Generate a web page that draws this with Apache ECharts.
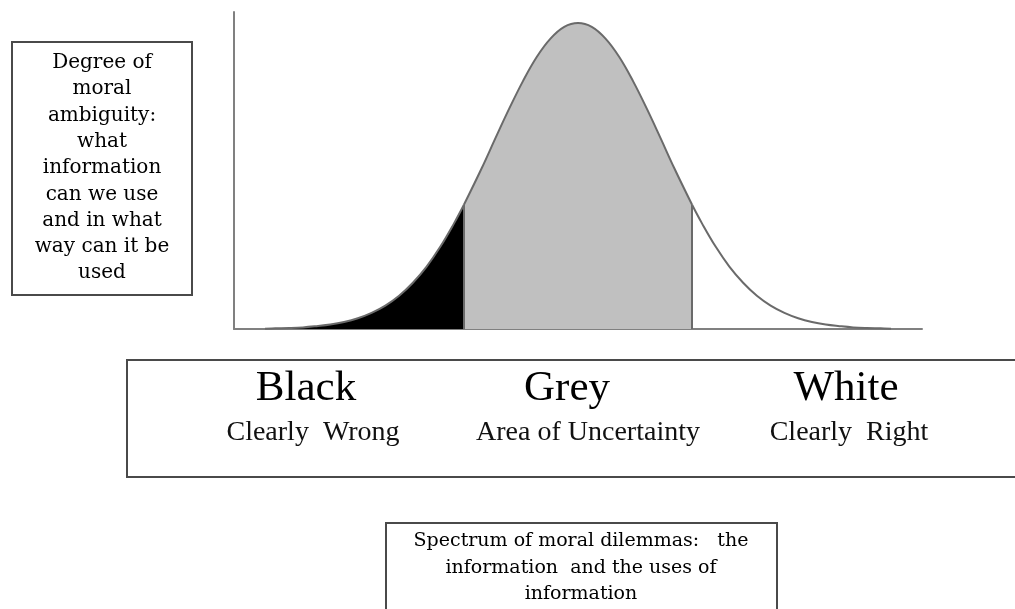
<!DOCTYPE html>
<html>
<head>
<meta charset="utf-8">
<script src="https://cdn.jsdelivr.net/npm/echarts@6/dist/echarts.min.js"></script>
<style>
  html, body { margin: 0; padding: 0; background: #fff; }
  #main { width: 1015px; height: 609px; }
</style>
</head>
<body>
<div id="main"></div>
<script>
// curve, x on a 0..100 scale along the axis, y 0..100 up the axis
const blackX = [4.5, 6, 8, 10, 12, 14, 16, 18, 20, 22, 24, 26, 28, 30, 32, 33.4];
const blackY = [0.1, 0.2, 0.3, 0.5, 0.9, 1.4, 2.2, 3.4, 5.1, 7.4, 10.5, 14.6, 19.7, 26.0, 33.4, 39.1];

const greyX = [33.4, 36, 38, 40, 42, 44, 46, 48, 50, 52, 54, 56, 58, 60, 62, 64, 66.6];
const greyY = [39.1, 50.7, 60.2, 69.5, 78.2, 85.8, 91.6, 95.3, 96.5, 95.3, 91.6, 85.8, 78.2, 69.5, 60.2, 50.7, 39.1];

const whiteX = [66.6, 68, 70, 72, 74, 76, 78, 80, 82, 84, 86, 88, 90, 92, 94, 95.5];
const whiteY = [39.1, 33.4, 26.0, 19.7, 14.6, 10.5, 7.4, 5.1, 3.4, 2.2, 1.4, 0.9, 0.5, 0.3, 0.2, 0.1];

// where the grey band starts and ends
const cutX = [33.4, 66.6];
const cutY = [39.1, 39.1];

const zones = ['Black', 'Grey', 'White'];
const zoneNotes = ['Clearly  Wrong', 'Area of Uncertainty', 'Clearly  Right'];

const yTitle = 'Degree of\nmoral\nambiguity:\nwhat\ninformation\ncan we use\nand in what\nway can it be\nused';
const xTitle = 'Spectrum of moral dilemmas:   the\ninformation  and the uses of\ninformation';

const pairs = (xs, ys) => xs.map((x, i) => [x, ys[i]]);

const lineCol = '#6a6a6a';
const boxCol = '#4a4a4a';

const chart = echarts.init(document.getElementById('main'));

const curve = (name, xs, ys, fill) => ({
  name: name,
  type: 'line',
  data: pairs(xs, ys),
  smooth: 0.4,
  showSymbol: false,
  lineStyle: { color: lineCol, width: 2 },
  areaStyle: fill ? { color: fill, opacity: 1 } : undefined,
  silent: true
});

const greySeries = curve('Grey', greyX, greyY, '#c0c0c0');
greySeries.markLine = {
  symbol: 'none',
  silent: true,
  label: { show: false },
  lineStyle: { color: lineCol, width: 2, type: 'solid' },
  data: cutX.map((x, i) => [{ coord: [x, 0] }, { coord: [x, cutY[i]] }])
};

const labelX = [306, 567, 846];
const noteX = [313, 588, 849];

const graphics = [
  // left box
  { type: 'rect', shape: { x: 12, y: 42, width: 180, height: 253 },
    style: { fill: '#fff', stroke: boxCol, lineWidth: 2 } },
  { type: 'text', x: 102, y: 168,
    style: { text: yTitle, fontFamily: 'DejaVu Serif', fontSize: 20, lineHeight: 26.3,
             align: 'center', verticalAlign: 'middle', fill: '#000' } },
  // zone box
  { type: 'rect', shape: { x: 127, y: 360, width: 900, height: 117 },
    style: { fill: '#fff', stroke: boxCol, lineWidth: 2 } },
  // bottom box
  { type: 'rect', shape: { x: 386, y: 523, width: 391, height: 100 },
    style: { fill: '#fff', stroke: boxCol, lineWidth: 2 } },
  { type: 'text', x: 581, y: 568,
    style: { text: xTitle, fontFamily: 'DejaVu Serif', fontSize: 19, lineHeight: 26.5,
             align: 'center', verticalAlign: 'middle', fill: '#000' } }
];
zones.forEach((z, i) => {
  graphics.push({ type: 'text', x: labelX[i], y: 389,
    style: { text: z, fontFamily: 'Liberation Serif', fontSize: 43,
             align: 'center', verticalAlign: 'middle', fill: '#000' } });
  graphics.push({ type: 'text', x: noteX[i], y: 433,
    style: { text: zoneNotes[i], fontFamily: 'Liberation Serif', fontSize: 28,
             align: 'center', verticalAlign: 'middle', fill: '#111' } });
});

const option = {
  animation: false,
  backgroundColor: '#fff',
  grid: { left: 234, right: 93, top: 12, bottom: 280 },
  xAxis: {
    type: 'value', min: 0, max: 100,
    axisLine: { show: true, lineStyle: { color: '#808080', width: 2 } },
    axisTick: { show: false }, axisLabel: { show: false }, splitLine: { show: false }
  },
  yAxis: {
    type: 'value', min: 0, max: 100,
    axisLine: { show: true, lineStyle: { color: '#808080', width: 2 } },
    axisTick: { show: false }, axisLabel: { show: false }, splitLine: { show: false }
  },
  series: [
    curve('Black', blackX, blackY, '#000'),
    greySeries,
    curve('White', whiteX, whiteY, null)
  ],
  graphic: graphics
};

chart.setOption(option);
</script>
</body>
</html>
